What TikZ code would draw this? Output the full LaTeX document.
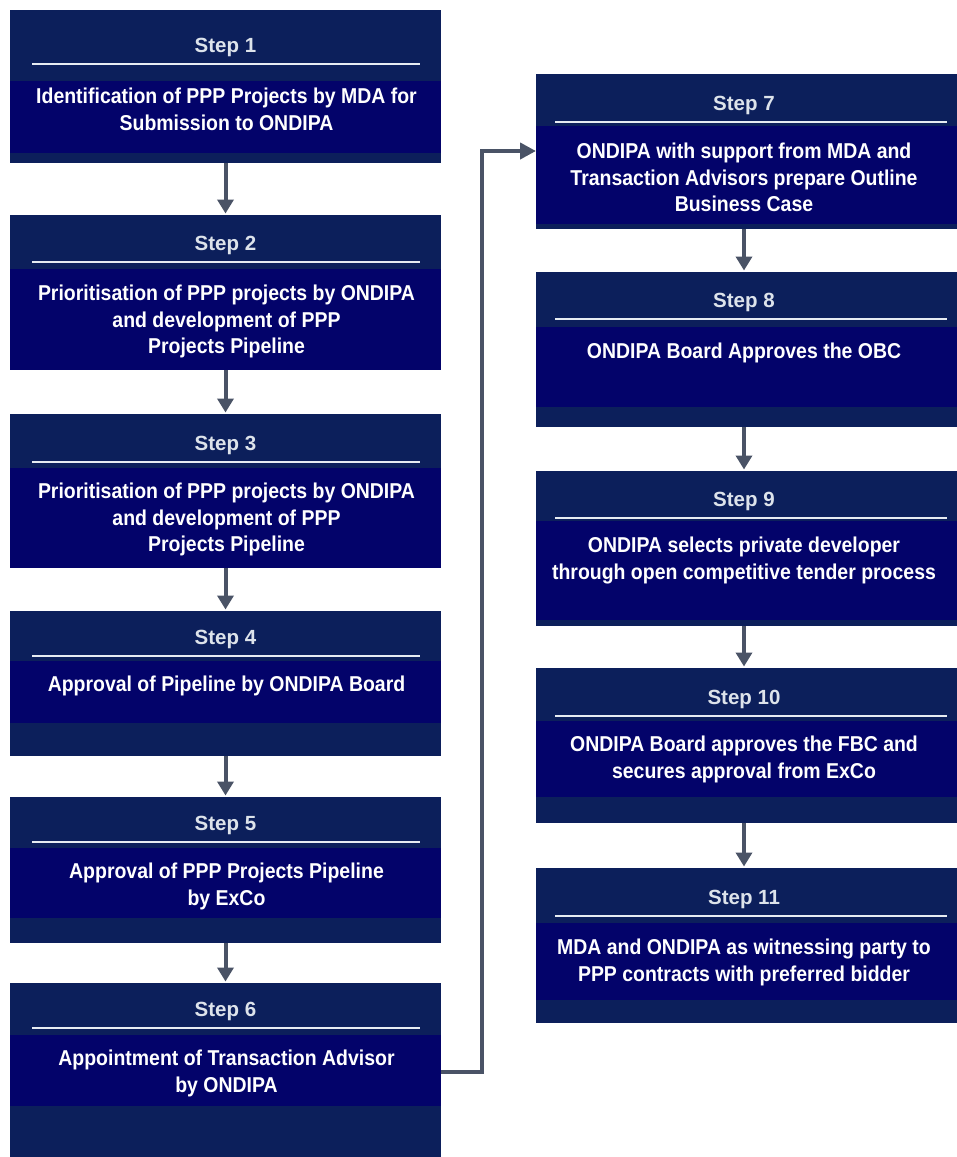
\documentclass[tikz,border=0pt]{standalone}
\usepackage{fontspec}
\setmainfont{Liberation Sans}
\newfontfamily\bodyfont{Liberation Sans}[FakeStretch=0.905]
\usetikzlibrary{arrows.meta}
\definecolor{outerc}{HTML}{0C1F5B}
\definecolor{bandc}{HTML}{03036A}
\definecolor{arrowc}{HTML}{4A5366}
\definecolor{lblc}{HTML}{DDE3EB}
\definecolor{linec}{HTML}{E6EBF2}
\tikzset{
  outerbox/.style={rectangle, fill=outerc, draw=none, inner sep=0pt, outer sep=0pt},
  bandbox/.style={rectangle, fill=bandc, draw=none, inner sep=0pt, outer sep=0pt},
  sepline/.style={draw=linec, line width=2.2pt},
  steplbl/.style={text=lblc, inner sep=0pt, font={\bfseries\fontsize{20.5}{24}\selectfont}},
  bodytxt/.style={text=white, inner sep=0pt, align=center, font={\bodyfont\bfseries\fontsize{21.5}{26.5}\selectfont}},
  arr/.style={draw=arrowc, line width=4pt, -{Triangle[width=16pt,length=14pt]}, shorten >=1.5pt},
  elbow/.style={draw=arrowc, line width=4pt, -{Triangle[width=16pt,length=16pt]}}
}
% #1 id, #2 top, #3 line y, #4 band top, #5 band bottom, #6 bottom, #7 cap top, #8 text
\newcommand\leftstep[8]{%
  \node[outerbox, minimum width=431pt, minimum height={#6-#2}, anchor=north west] (s#1) at (10,#2) {};
  \node[bandbox, minimum width=431pt, minimum height={#5-#4}, anchor=north west] (b#1) at (10,#4) {};
  \draw[sepline] (32,#3) -- (420,#3);
  \node[steplbl, anchor=base] (l#1) at (225.5,#3-12) {Step #1};
  \node[bodytxt, anchor=north] (t#1) at (226.5,#7) {#8};
}
\newcommand\rightstep[8]{%
  \node[outerbox, minimum width=425pt, minimum height={#6-#2}, anchor=north west] (s#1) at (536,#2) {};
  \node[bandbox, minimum width=425pt, minimum height={#5-#4}, anchor=north west] (b#1) at (536,#4) {};
  \draw[sepline] (555,#3) -- (947,#3);
  \node[steplbl, anchor=base] (l#1) at (744,#3-12) {Step #1};
  \node[bodytxt, anchor=north] (t#1) at (744,#7) {#8};
}
\begin{document}
\begin{tikzpicture}[x=1pt,y=-1pt]
\useasboundingbox[fill=white] (0,0) rectangle (957,1157);
% left column
\leftstep{1}{10}{64}{81}{153}{163}{88}{Identification of PPP Projects by MDA for\\Submission to ONDIPA}
\leftstep{2}{215}{262}{269}{370}{370}{285}{Prioritisation of PPP projects by ONDIPA\\and development of PPP\\Projects Pipeline}
\leftstep{3}{414}{462}{468}{568}{568}{483}{Prioritisation of PPP projects by ONDIPA\\and development of PPP\\Projects Pipeline}
\leftstep{4}{611}{656}{661}{723}{756}{676}{Approval of Pipeline by ONDIPA Board}
\leftstep{5}{797}{842}{848}{918}{943}{863}{Approval of PPP Projects Pipeline\\by ExCo}
\leftstep{6}{983}{1028}{1035}{1106}{1162}{1050}{Appointment of Transaction Advisor\\by ONDIPA}
% right column
\rightstep{7}{74}{122}{126}{224}{229}{143}{ONDIPA with support from MDA and\\Transaction Advisors prepare Outline\\Business Case}
\rightstep{8}{272}{319}{327}{407}{427}{343}{ONDIPA Board Approves the OBC}
\rightstep{9}{471}{518}{521}{620}{626}{537}{ONDIPA selects private developer\\through open competitive tender process}
\rightstep{10}{668}{716}{721}{797}{823}{736}{ONDIPA Board approves the FBC and\\secures approval from ExCo}
\rightstep{11}{868}{916}{923}{1000}{1023}{939}{MDA and ONDIPA as witnessing party to\\PPP contracts with preferred bidder}
% connectors
\draw[arr] (s1.south -| l1) -- (s2.north -| l2);
\draw[arr] (s2.south -| l2) -- (s3.north -| l3);
\draw[arr] (s3.south -| l3) -- (s4.north -| l4);
\draw[arr] (s4.south -| l4) -- (s5.north -| l5);
\draw[arr] (s5.south -| l5) -- (s6.north -| l6);
\draw[arr] (s7.south -| l7) -- (s8.north -| l8);
\draw[arr] (s8.south -| l8) -- (s9.north -| l9);
\draw[arr] (s9.south -| l9) -- (s10.north -| l10);
\draw[arr] (s10.south -| l10) -- (s11.north -| l11);
\coordinate (c1) at (482,1072);
\coordinate (c2) at (482,151);
\draw[elbow] (s6.east |- c1) -- (c1) -- (c2) -- (s7.west |- c2);
\end{tikzpicture}
\end{document}
